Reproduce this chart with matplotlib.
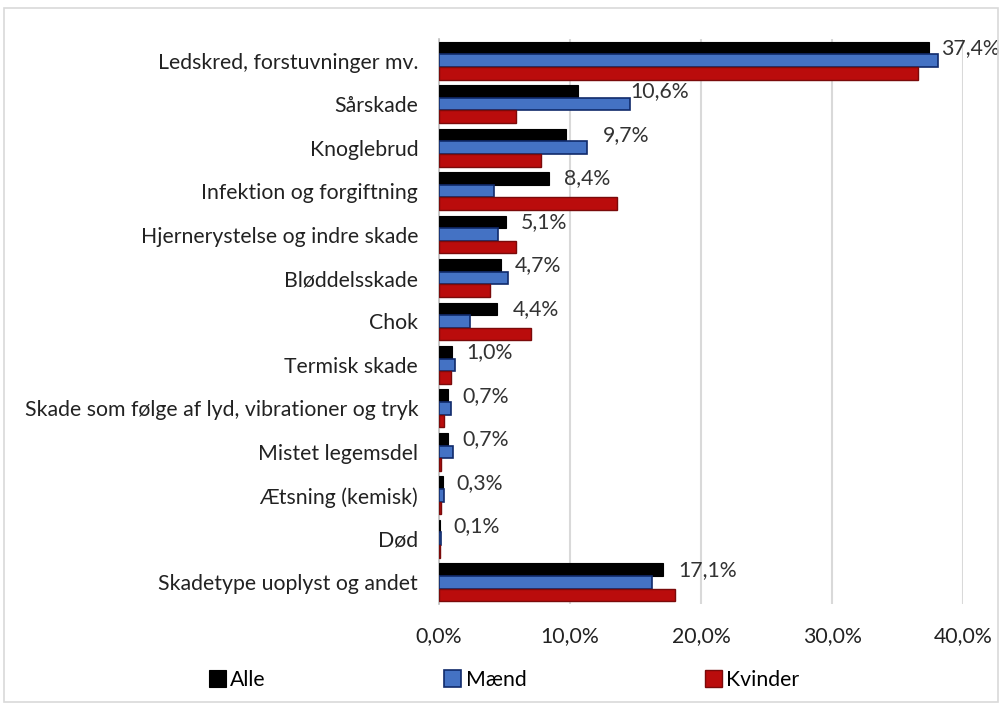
import numpy as np
import matplotlib.pyplot as plt
from matplotlib.patches import Rectangle

plt.rcParams['font.family'] = ['Lato', 'DejaVu Sans']

# Data (andel i %)
kategorier = ['Ledskred, forstuvninger mv.', 'Sårskade', 'Knoglebrud',
              'Infektion og forgiftning', 'Hjernerystelse og indre skade',
              'Bløddelsskade', 'Chok', 'Termisk skade',
              'Skade som følge af lyd, vibrationer og tryk', 'Mistet legemsdel',
              'Ætsning (kemisk)', 'Død', 'Skadetype uoplyst og andet']
alle = [37.4, 10.6, 9.7, 8.4, 5.1, 4.7, 4.4, 1.0, 0.7, 0.7, 0.3, 0.1, 17.1]
maend = [38.1, 14.6, 11.3, 4.2, 4.5, 5.3, 2.4, 1.2, 0.9, 1.1, 0.36, 0.15, 16.25]
kvinder = [36.6, 5.9, 7.75, 13.6, 5.9, 3.9, 7.0, 0.9, 0.4, 0.17, 0.17, 0.05, 18.05]
xticks = [0, 10, 20, 30, 40]

fs = 15.3

fig = plt.figure(figsize=(10, 7.06), dpi=100)
ax = fig.add_axes([0.439, 0.1445, 0.524, 0.8003])

y = np.arange(len(kategorier))
h = 0.29
ax.barh(y - h, alle, height=h, color='black', edgecolor='black', linewidth=0.8, label='Alle', zorder=3)
ax.barh(y, maend, height=h, color='#4472C4', edgecolor='#102A6B', linewidth=1.2, label='Mænd', zorder=3)
ax.barh(y + h, kvinder, height=h, color='#BA0C0C', edgecolor='#7A0A0A', linewidth=1.0, label='Kvinder', zorder=3)

# labels for Alle (manually placed a bit like original)
label_x = [38.35, 14.6, 12.5, 9.55, 6.25, 5.8, 5.65, 2.1, 1.75, 1.75, 1.3, 1.1, 18.25]
for i, v in enumerate(alle):
    ax.text(label_x[i], i - h, f'{v:.1f}%'.replace('.', ','), ha='left', va='center',
            fontsize=fs, color='#333333', zorder=4)

ax.set_xlim(0, 40)
ax.set_ylim(len(kategorier) - 0.5, -0.5)
ax.set_yticks(y)
ax.set_yticklabels(kategorier, fontsize=fs, color='#222222')
ax.set_xticks(xticks)
ax.set_xticklabels([f'{t:.1f}%'.replace('.', ',') for t in xticks], fontsize=fs, color='#222222')
ax.tick_params(axis='y', length=0, pad=15)
ax.tick_params(axis='x', length=0, pad=16)
ax.grid(axis='x', color='#D9D9D9', linewidth=1.5, zorder=0)
for s in ['top', 'right', 'bottom']:
    ax.spines[s].set_visible(False)
ax.spines['left'].set_color('#BFBFBF')
ax.spines['left'].set_linewidth(1.2)

fig.legend(loc='center', bbox_to_anchor=(0.504, 0.037), ncol=3, frameon=False,
           fontsize=fs, handlelength=0.8, handleheight=0.8, handletextpad=0.2,
           columnspacing=8.4)

fig.patches.append(Rectangle((0.004, 0.006), 0.994, 0.983, transform=fig.transFigure,
                             fill=False, edgecolor='#D9D9D9', linewidth=1.2))

plt.savefig('out.png', dpi=100)
